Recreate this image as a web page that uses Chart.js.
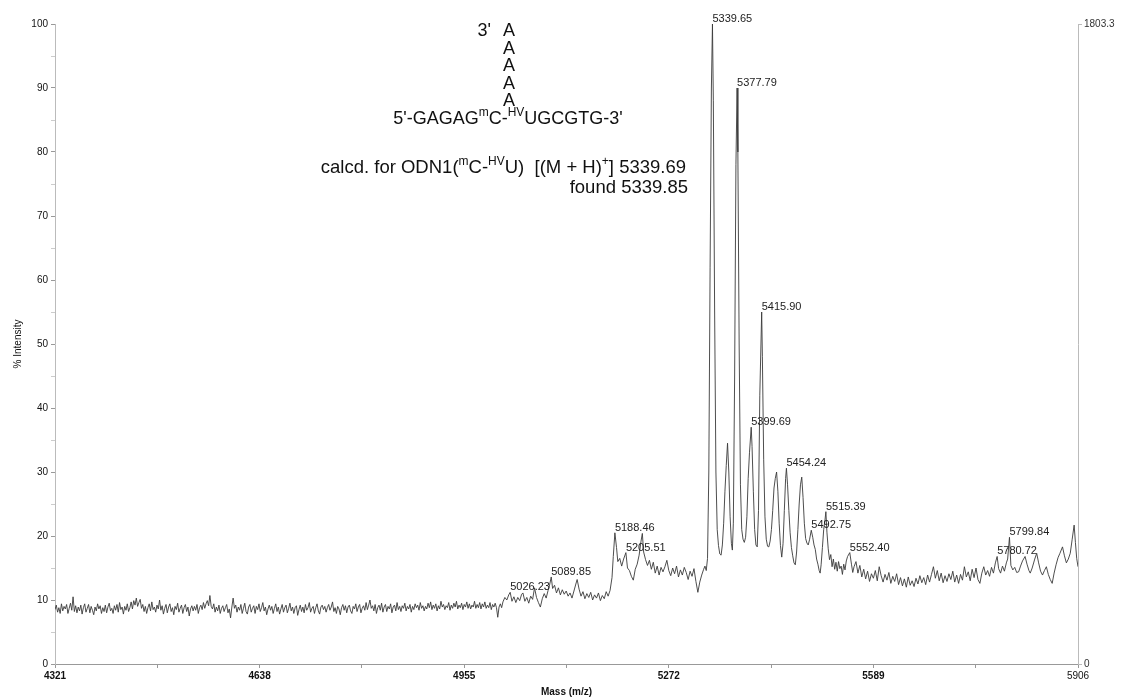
<!DOCTYPE html>
<html>
<head>
<meta charset="utf-8">
<title>MALDI-TOF ODN1</title>
<script src="https://cdn.jsdelivr.net/npm/chart.js@4/dist/chart.umd.min.js"></script>
<style>
  html, body { margin: 0; padding: 0; background: #fff; }
  .chartCon { width: 1125px; height: 700px; position: relative; }
</style>
</head>
<body>
<div class="chartCon">
  <canvas id="myChart"></canvas>
</div>
<script>
// spectrum, [mass (m/z), % intensity]
const lowMassNoise = [
  [4321,8.5],[4323,9.2],[4325,8.1],[4327,8.8],[4329,7.9],[4331,9.4],[4333,8.3],[4335,9.0],[4337,8.6],[4339,9.3],
  [4341,7.9],[4343,8.7],[4345,9.5],[4347,8.4],[4349,10.5],[4351,8.2],[4353,9.1],[4355,8.0],[4357,8.9],[4359,8.3],
  [4361,9.2],[4363,7.8],[4365,8.8],[4367,9.4],[4369,8.1],[4371,8.7],[4373,9.3],[4375,8.0],[4377,9.0],[4379,8.4],
  [4381,7.7],[4383,8.9],[4385,8.3],[4387,9.4],[4389,8.6],[4391,9.1],[4393,7.9],[4395,8.8],[4397,8.2],[4399,9.2],
  [4401,8.0],[4403,8.9],[4405,9.5],[4407,8.3],[4409,8.7],[4411,7.9],[4413,9.1],[4415,8.4],[4417,9.3],[4419,8.1],
  [4421,9.6],[4423,8.5],[4425,8.9],[4427,7.8],[4429,9.0],[4431,8.4],[4433,9.4],[4435,8.2],[4437,8.8],[4439,9.7],
  [4441,8.6],[4443,9.9],[4445,9.2],[4447,10.3],[4449,9.0],[4451,9.6],[4453,10.1],[4455,8.7],[4457,9.3],[4459,8.2],
  [4461,9.0],[4463,7.9],[4465,8.8],[4467,9.4],[4469,8.3],[4471,9.7],[4473,8.5],[4475,8.9],[4477,8.1],[4479,9.2],
  [4481,8.6],[4483,10.0],[4485,8.4],[4487,9.1],[4489,7.8],[4491,8.7],[4493,9.3],[4495,8.0],[4497,8.9],[4499,9.4],
  [4501,8.2],[4503,8.8],[4505,7.7],[4507,9.0],[4509,8.5],[4511,9.5],[4513,8.1],[4515,8.7],[4517,9.2],[4519,7.9],
  [4521,8.8],[4523,9.3],[4525,8.2],[4527,8.9],[4529,7.5],[4531,8.6],[4533,9.1],[4535,8.3],[4537,9.0],[4539,8.4],
  [4541,9.3],[4543,7.9],[4545,8.8],[4547,9.2],[4549,8.5],[4551,9.6],[4553,8.7],[4555,9.4],[4557,9.9],[4559,9.1],
  [4561,10.7],[4563,9.0],[4565,8.6],[4567,9.4],[4569,8.1],[4571,8.9],[4573,8.3],[4575,9.2],[4577,7.9],[4579,8.7],
  [4581,9.1],[4583,8.2],[4585,8.8],[4587,9.3],[4589,8.0],[4591,8.6],[4593,7.2],[4595,8.9],[4597,10.3],[4599,8.7],
  [4601,9.2],[4603,8.1],[4605,8.9],[4607,8.4],[4609,9.3],[4611,7.9],[4613,8.7],[4615,9.5],[4617,8.2],[4619,7.8],
  [4621,8.9],[4623,9.3],[4625,8.1],[4627,8.7],[4629,9.1],[4631,7.9],[4633,9.0],[4635,8.5],[4637,9.4],[4639,8.2],
  [4641,8.8],[4643,9.6],[4645,8.3],[4647,8.9],[4649,7.7],[4651,8.6],[4653,9.2],[4655,8.4],[4657,9.0],[4659,7.9],
  [4661,8.7],[4663,9.4],[4665,8.2],[4667,8.9],[4669,7.8],[4671,8.6],[4673,9.3],[4675,8.1],[4677,8.8],[4679,9.2],
  [4681,8.0],[4683,8.7],[4685,9.5],[4687,8.3],[4689,8.9],[4691,7.9],[4693,8.8],[4695,9.1],[4697,7.6],[4699,8.5],
  [4701,9.2],[4703,8.2],[4705,8.9],[4707,8.0],[4709,9.3],[4711,8.4],[4713,8.8],[4715,9.6],[4717,8.1],[4719,8.7],
  [4721,9.0],[4723,7.9],[4725,8.8],[4727,9.4],[4729,8.3],[4731,7.8],[4733,8.9],[4735,9.2],[4737,8.5],[4739,9.0],
  [4741,8.1],[4743,8.8],[4745,9.3],[4747,8.4],[4749,8.9],[4751,9.7],[4753,8.2],[4755,8.8],[4757,7.9],[4759,9.0],
  [4761,8.6],[4763,7.7],[4765,8.8],[4767,9.3],[4769,8.4],[4771,9.1],[4773,8.0],[4775,8.9],[4777,9.2],[4779,8.3],
  [4781,7.9],[4783,9.0],[4785,8.6],[4787,9.4],[4789,8.2],[4791,8.9],[4793,9.3],[4795,8.0],[4797,8.7],[4799,9.1],
  [4801,8.4],[4803,9.6],[4805,8.5],[4807,9.2],[4809,10.0],[4811,8.7],[4813,9.1],[4815,8.3],[4817,9.3],[4819,7.9],
  [4821,8.8],[4823,9.2],[4825,8.4],[4827,9.5],[4829,8.1],[4831,8.9],[4833,9.3],[4835,8.2],[4837,9.0],[4839,8.6],
  [4841,9.4],[4843,8.0],[4845,8.9],[4847,9.2],[4849,8.3],[4851,9.6],[4853,8.5],[4855,9.0],[4857,8.2],[4859,9.1],
  [4861,8.7],[4863,9.5],[4865,8.3],[4867,9.0],[4869,8.6],[4871,9.3],[4873,8.1],[4875,9.0],[4877,8.5],[4879,9.4],
  [4881,8.8],[4883,9.2],[4885,8.4],[4887,9.6],[4889,8.7],[4891,9.1],[4893,8.3],[4895,9.0],[4897,8.6],[4899,9.5],
  [4901,8.8],[4903,9.7],[4905,8.5],[4907,9.2],[4909,8.7],[4911,9.4],[4913,8.3],[4915,9.1],[4917,8.6],[4919,9.8],
  [4921,8.9],[4923,9.3],[4925,8.5],[4927,9.1],[4929,8.8],[4931,9.6],[4933,8.4],[4935,9.2],[4937,8.7],[4939,9.5],
  [4941,8.9],[4943,9.8],[4945,8.6],[4947,9.2],[4949,8.8],[4951,9.5],[4953,8.5],[4955,9.3],[4957,8.9],[4959,9.7],
  [4961,8.7],[4963,9.4],[4965,8.6],[4967,9.2],[4969,8.9],[4971,9.8],[4973,8.7],[4975,9.3],[4977,8.8],[4979,9.6],
  [4981,8.6],[4983,9.4],[4985,8.9],[4987,9.7],[4989,8.7],[4991,9.2],[4993,8.8],[4995,9.6],[4997,8.5],[4999,9.3],
  [5001,8.9],[5003,9.5],[5005,8.8],[5007,7.3],[5009,8.9],[5011,9.4],[5013,8.8],[5015,9.7]
];

const shoulder = [
  [5018,10.4],[5021,10.0],[5024,10.8],[5026.23,11.2],[5029,9.8],[5032,10.5],[5035,9.6],[5038,10.4],[5041,9.9],[5044,10.9],
  [5046,11.1],[5049,9.8],[5052,10.4],[5055,9.5],[5058,10.6],[5061,10.1],[5064,11.9],[5067,10.4],[5070,9.6],[5073,8.9],
  [5076,10.2],[5079,11.0],[5082,10.3],[5085,11.5],[5087,12.2],[5089.85,13.6],[5092,11.8],[5095,12.3],[5098,11.1],[5101,11.9],
  [5104,10.8],[5107,11.6],[5110,10.9],[5113,11.4],[5116,10.6],[5119,11.1],[5122,10.3],[5125,11.4],[5128,12.5],[5130,13.2],
  [5133,11.7],[5136,10.6],[5139,11.3],[5142,10.2],[5145,11.0],[5148,10.4],[5151,11.2],[5154,10.0],[5157,10.8],[5160,10.3],
  [5163,11.1],[5166,9.9],[5169,10.7],[5172,10.2],[5175,11.3],[5178,10.6],[5181,11.5],[5184,13.5],[5186,16.8],[5188.46,20.5],
  [5191,18.2],[5193,16.0],[5196,16.5],[5199,15.3],[5202,16.4],[5205.51,17.4],[5208,15.0],[5211,14.6],[5214,13.7],[5217,13.1],
  [5220,14.8],[5223,15.6],[5226,17.0],[5229,19.2],[5231,20.4],[5233,17.5],[5236,16.3],[5239,15.4],[5242,16.2],[5245,14.8],
  [5248,15.9],[5251,14.2],[5254,15.3],[5257,13.9],[5260,15.1],[5263,14.4],[5266,15.2],[5269,16.2],[5272,14.6],[5275,13.8],
  [5278,15.0],[5281,14.1],[5284,15.3],[5287,13.6],[5290,14.7],[5293,13.9],[5296,15.1],[5299,14.3],[5302,13.2],[5305,14.5],
  [5308,13.7],[5311,14.9],[5314,12.9],[5317,11.2],[5320,12.8],[5323,13.9],[5326,14.8],[5328,15.3],[5330,14.6]
];

const mainCluster = [
  [5332,16.5],[5334,30],[5336,62],[5338,90],[5339.65,100],[5341,88],[5343,55],[5345,30],[5347,21],[5349,18.5],
  [5351,17.2],[5353,17.0],[5355,18.6],[5357,22],[5359,27],[5361,31],[5363,34.5],[5365,30],[5367,23],[5369,18.8],
  [5370.5,17.8],[5372,22],[5374,45],[5376,78],[5377.79,90],[5379,80],[5381,50],[5383,28],[5385,21],[5387,19.5],
  [5389,19.0],[5391,19.8],[5393,23],[5395,29],[5397,33],[5399.69,37],[5401,34],[5403,27],[5405,21],[5407,18.6],
  [5409,18.3],[5411,24],[5413,42],[5415.90,55],[5417,48],[5419,32],[5421,23],[5423,19.5],[5425,18.4],[5427,18.3],
  [5429,19.2],[5431,21],[5433,24],[5435,27.5],[5437,29],[5439,30],[5441,27],[5443,22],[5445,18.5],[5447,16.7],
  [5449,18.8],[5451,24],[5453,29],[5454.24,30.6],[5456,28],[5458,24],[5460,20.5],[5462,18.2],[5464,16.9],[5466,15.8],
  [5468,15.5],[5470,17.5],[5472,21],[5474,25],[5476,28],[5478,29.2],[5480,26],[5482,22],[5484,19.6],[5486,18.9],
  [5488,18.6],[5490,19.4],[5492.75,20.9],[5495,19.8],[5497,18.6],[5499,17.9],[5501,16.4],[5503,15.6],[5505,14.6],[5506.5,14.2],
  [5508,15.5],[5510,18.2],[5512,21],[5514,22.5],[5515.39,23.8],[5517,20.6],[5519,18.0],[5521,16.3],[5523,17.1],[5525,15.2],
  [5527,16.4],[5529,14.8],[5531,15.9],[5533,14.5],[5535,16.0],[5537,14.9],[5539,15.3],[5541,14.0],[5543,15.6],[5545,14.7],
  [5547,16.1],[5549,16.8],[5552.40,17.4],[5555,15.6],[5557,14.3],[5559,15.2]
];

const tail = [
  [5562,16.0],[5565,14.2],[5568,15.4],[5571,13.6],[5574,14.8],[5577,13.3],[5580,14.5],[5583,12.9],[5586,14.1],[5589,13.4],
  [5592,14.6],[5595,13.0],[5598,15.2],[5601,13.8],[5604,12.8],[5607,14.0],[5610,13.1],[5613,14.3],[5616,12.6],[5619,13.7],
  [5622,12.9],[5625,14.1],[5628,12.4],[5631,13.5],[5634,12.2],[5637,13.3],[5640,12.0],[5643,13.6],[5646,12.3],[5649,13.0],
  [5652,12.1],[5655,13.4],[5658,12.5],[5661,13.8],[5664,12.7],[5667,13.5],[5670,12.4],[5673,13.9],[5676,12.8],[5679,14.0],
  [5682,15.2],[5685,13.4],[5688,14.6],[5691,13.0],[5694,14.2],[5697,12.7],[5700,13.8],[5703,12.9],[5706,14.1],[5709,13.2],
  [5712,14.5],[5715,12.8],[5718,13.9],[5721,12.6],[5724,14.0],[5727,13.1],[5730,15.2],[5733,13.6],[5736,14.4],[5739,13.0],
  [5742,14.8],[5745,13.5],[5748,15.0],[5751,13.2],[5754,12.6],[5757,14.2],[5760,15.2],[5763,13.9],[5766,14.6],[5769,13.7],
  [5772,15.1],[5775,14.2],[5778,15.8],[5780.72,16.8],[5783,14.9],[5786,14.2],[5789,15.3],[5792,14.5],[5795,15.8],[5797,16.4],
  [5799.84,19.8],[5802,15.4],[5805,14.7],[5808,15.1],[5811,14.3],[5814,14.4],[5817,15.3],[5820,16.1],[5824,16.8],[5827,15.6],
  [5830,14.6],[5832,14.2],[5835,15.0],[5839,16.4],[5842,17.3],[5845,15.8],[5848,14.5],[5851,13.9],[5854,14.6],[5857,15.2],
  [5860,14.0],[5863,13.2],[5866,12.6],[5869,14.2],[5872,15.5],[5875,16.6],[5878,17.3],[5882,18.3],[5885,16.9],[5888,15.8],
  [5891,16.4],[5894,17.3],[5897,19.5],[5900,21.7],[5902,19.0],[5904,16.5],[5906,15.2]
];

// labelled peaks
const peakMasses = [5026.23, 5089.85, 5188.46, 5205.51, 5339.65, 5377.79, 5399.69, 5415.90,
                    5454.24, 5492.75, 5515.39, 5552.40, 5780.72, 5799.84];

// axis ticks
const massMajorTicks = [4321, 4638, 4955, 5272, 5589, 5906];
const massMinorTicks = [4479.5, 4796.5, 5113.5, 5430.5, 5747.5];
const intensityTicks = [0, 5, 10, 15, 20, 25, 30, 35, 40, 45, 50, 55, 60, 65, 70, 75, 80, 85, 90, 95, 100];
const countTicks = [0, 1803.3];

const spectrum = [...lowMassNoise, ...shoulder, ...mainCluster, ...tail];

const FONT = '"Liberation Sans", Arial, Helvetica, sans-serif';

// draws a line of text made of normal and superscript runs
function drawRuns(ctx, runs, x, y, align, size) {
  const supSize = Math.round(size * 0.66);
  let total = 0;
  runs.forEach(r => {
    ctx.font = (r.sup ? supSize : size) + 'px ' + FONT;
    r.w = ctx.measureText(r.t).width;
    total += r.w;
  });
  let cx = x;
  if (align === 'right') cx = x - total;
  if (align === 'center') cx = x - total / 2;
  ctx.textAlign = 'left';
  ctx.textBaseline = 'alphabetic';
  runs.forEach(r => {
    ctx.font = (r.sup ? supSize : size) + 'px ' + FONT;
    ctx.fillText(r.t, cx, r.sup ? y - size * 0.42 : y);
    cx += r.w;
  });
}

// structure and mass annotation in the upper part
const structurePlugin = {
  id: 'structure',
  afterDraw(chart) {
    const ctx = chart.ctx;
    ctx.save();
    ctx.fillStyle = '#111';
    const size = 18;
    ctx.font = size + 'px ' + FONT;
    ctx.textAlign = 'right';
    ctx.fillText("3'", 491, 36);
    ctx.textAlign = 'center';
    [36, 53.5, 71, 88.5, 106].forEach(y => ctx.fillText('A', 509, y));
    drawRuns(ctx, [
      { t: "5'-GAGAG" }, { t: 'm', sup: true }, { t: 'C-' }, { t: 'HV', sup: true }, { t: "UGCGTG-3'" }
    ], 508, 124, 'center', size);
    drawRuns(ctx, [
      { t: 'calcd. for ODN1(' }, { t: 'm', sup: true }, { t: 'C-' }, { t: 'HV', sup: true },
      { t: 'U)  [(M + H)' }, { t: '+', sup: true }, { t: '] 5339.69' }
    ], 686, 173, 'right', 18.5);
    drawRuns(ctx, [{ t: 'found 5339.85' }], 688, 193, 'right', 18.5);
    ctx.restore();
  }
};

// m/z labels above the peaks
const peakLabelPlugin = {
  id: 'peakLabels',
  afterDatasetsDraw(chart) {
    const ctx = chart.ctx;
    const xs = chart.scales.x, ys = chart.scales.y;
    ctx.save();
    ctx.fillStyle = '#222';
    ctx.font = '11px ' + FONT;
    ctx.textAlign = 'left';
    ctx.textBaseline = 'alphabetic';
    peakMasses.forEach(m => {
      const p = spectrum.find(d => d[0] === m);
      if (!p) return;
      ctx.fillText(m.toFixed(2), xs.getPixelForValue(m), ys.getPixelForValue(p[1]) - 2);
    });
    ctx.restore();
  }
};

const chartArea = document.getElementById('myChart').getContext('2d');
const myChart = new Chart(chartArea, {
  type: 'line',
  data: {
    datasets: [{
      data: spectrum.map(([m, v]) => ({ x: m, y: v })),
      borderColor: '#3a3a3a',
      borderWidth: 0.9,
      pointRadius: 0,
      tension: 0,
      fill: false
    }]
  },
  options: {
    responsive: true,
    maintainAspectRatio: false,
    animation: false,
    layout: { padding: { top: 24, left: 0, right: 0, bottom: 0 } },
    plugins: {
      legend: { display: false },
      tooltip: { enabled: false }
    },
    scales: {
      x: {
        type: 'linear',
        min: 4321,
        max: 5906,
        afterBuildTicks: s => { s.ticks = [...massMajorTicks, ...massMinorTicks].sort((a, b) => a - b).map(v => ({ value: v })); },
        afterFit: s => { s.height = 36; },
        ticks: {
          autoSkip: false,
          maxRotation: 0,
          padding: 2,
          color: '#111',
          font: ctx => ({ family: FONT, size: 10, weight: ctx.tick && ctx.tick.value === 5906 ? 'normal' : 'bold' }),
          callback: v => massMajorTicks.includes(v) ? String(v) : ''
        },
        grid: { drawOnChartArea: false, tickLength: 4, color: '#999' },
        border: { color: '#999' },
        title: { display: true, text: 'Mass (m/z)', color: '#111', padding: { top: 0, bottom: 2 },
                 font: { family: FONT, size: 10, weight: 'bold' } }
      },
      y: {
        min: 0,
        max: 100,
        afterBuildTicks: s => { s.ticks = intensityTicks.map(v => ({ value: v })); },
        afterFit: s => { s.width = 55; },
        ticks: {
          autoSkip: false,
          padding: 3,
          color: '#111',
          font: { family: FONT, size: 10 },
          callback: v => v % 10 === 0 ? String(v) : ''
        },
        grid: { drawOnChartArea: false, tickLength: 4, color: ctx => ctx.tick && ctx.tick.value % 10 === 0 ? '#999' : '#ccc' },
        border: { color: '#bbb' },
        title: { display: true, text: '% Intensity', color: '#111', padding: { top: 12, bottom: 0 },
                 font: { family: FONT, size: 10 } }
      },
      y2: {
        position: 'right',
        min: 0,
        max: 1803.3,
        afterBuildTicks: s => { s.ticks = countTicks.map(v => ({ value: v })); },
        afterFit: s => { s.width = 47; },
        ticks: {
          autoSkip: false,
          padding: 2,
          color: '#333',
          font: { family: FONT, size: 10 },
          callback: v => String(v)
        },
        grid: { drawOnChartArea: false, tickLength: 4, color: '#bbb' },
        border: { color: '#bbb' }
      }
    }
  },
  plugins: [structurePlugin, peakLabelPlugin]
});
</script>
</body>
</html>
